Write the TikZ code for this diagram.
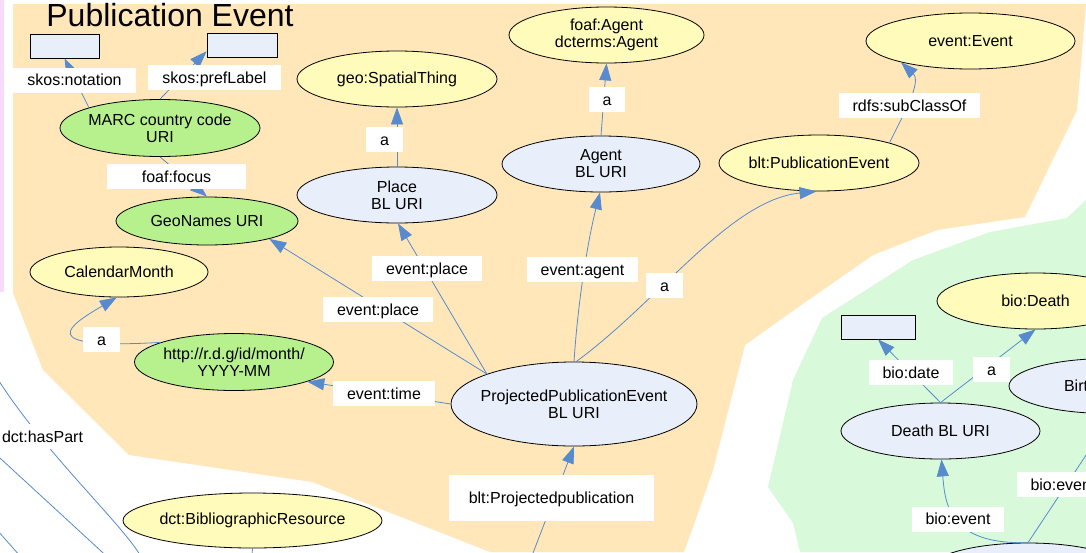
\documentclass[tikz,border=0pt]{standalone}
\usepackage{fontspec}
\setmainfont{Liberation Sans}
\usepackage{tikz}
\usetikzlibrary{positioning,shapes.geometric,arrows.meta}
\definecolor{clorange}{RGB}{255,231,186}
\definecolor{clgreen}{RGB}{216,250,218}
\definecolor{clpink}{RGB}{248,218,250}
\definecolor{ndyellow}{RGB}{255,251,187}
\definecolor{ndblue}{RGB}{233,239,250}
\definecolor{ndgreen}{RGB}{183,241,142}
\definecolor{edgeblue}{RGB}{87,139,206}
\tikzstyle{ent} = [ellipse, draw, line width=0.8pt, inner xsep=-40pt, inner ysep=-12pt, minimum width=200pt, minimum height=56pt, align=center]
\tikzstyle{uri} = [ent, fill=ndblue]
\tikzstyle{cls} = [ent, fill=ndyellow]
\tikzstyle{ext} = [ent, fill=ndgreen]
\tikzstyle{lit} = [draw, line width=0.8pt, fill=ndblue, minimum width=70pt, minimum height=24pt]
\tikzstyle{prop} = [fill=white, inner xsep=14pt, inner ysep=0pt, minimum height=25pt, text height=12pt, text depth=1pt]
\tikzstyle{rel} = [draw=edgeblue, line width=0.8pt, -{Triangle[length=17pt,width=12pt]}]

\begin{document}
\begin{tikzpicture}[x=1pt, y=-1pt, every node/.style={font=\fontsize{16}{17}\selectfont}]
				\useasboundingbox (0,0) rectangle (1086,552);
				\clip (0,0) rectangle (1086,552);
				\fill[white] (0,0) rectangle (1086,552);
				\fill[clpink] (0,0) rectangle (4,292);
				\fill[clorange] (13,4) -- (1086,4) -- (1077,110) -- (1025,217) -- (937,230) -- (873,255) -- (797,308) -- (745,345) -- (713,470) -- (692,530) -- (684,552) -- (490,552) -- (312,482) -- (129,455) -- (43,370) -- (13,293) -- cycle;
				\fill[clgreen] (1086,200) -- (1067,218) -- (990,232) -- (913,260) -- (822,318) -- (793,380) -- (768,487) -- (793,523) -- (800,552) -- (1086,552) -- cycle;
				\node[font=\fontsize{32}{36}\selectfont, anchor=base] (title) at (170,26) {Publication Event};
				\node[lit, minimum width=69pt] (nota) at (64.5,46) {};
				\node[lit] (pref) at (242,45) {};
				\node[ext, minimum height=57pt] (marc) at (160,128) {MARC country code\\URI};
				\node[ext, minimum width=182pt, minimum height=48pt] (geon) at (207,221) {GeoNames URI};
				\node[cls, minimum width=178pt, minimum height=50pt] (calm) at (119,272) {CalendarMonth};
				\node[ext, minimum width=199pt, minimum height=57pt] (month) at (234,362) {http://r.d.g/id/month/\\YYYY-MM};
				\node[uri, minimum width=246pt, minimum height=84pt] (ppe) at (574,404) {ProjectedPublicationEvent\\BL URI};
				\node[uri] (place) at (397,195) {Place\\BL URI};
				\node[cls] (spat) at (397,79) {geo:SpatialThing};
				\node[cls, minimum width=195pt] (fagent) at (606.5,35) {foaf:Agent\\dcterms:Agent};
				\node[uri, minimum width=198pt] (agent) at (601,164) {Agent\\BL URI};
				\node[cls] (pubev) at (819,163) {blt:PublicationEvent};
				\node[cls, minimum width=209pt] (event) at (970.5,41) {event:Event};
				\node[cls, minimum width=259pt, minimum height=55pt] (bib) at (252.5,520.5) {dct:BibliographicResource};
				\node[cls, minimum width=197pt] (bdeath) at (1035.5,301) {bio:Death};
				\node[lit, minimum width=74pt] (dbox) at (878,327) {};
				\node[uri, minimum width=199pt] (death) at (940.5,431) {Death BL URI};
				\node[uri, minimum width=199pt, minimum height=55pt] (birth) at (1108.5,386) {Birth BL URI};
				\node[uri] (pers) at (1028,571) {};
				\coordinate (projin) at (528,566);
				\coordinate (bibout) at (250,580);
				\coordinate (hpa1) at (-16,356);
				\coordinate (hpa2) at (150,572);
				\coordinate (hpb1) at (-12,447);
				\coordinate (hpb2) at (126,574);
				\coordinate (hpc1) at (-10,522);
				\coordinate (hpc2) at (36,574);
				\draw[rel] (marc.164) -- (nota.south);
				\draw[rel] (marc.north) -- (pref.190);
				\draw[rel] (marc.south) -- (geon.north);
				\draw[rel] (month.165) .. controls (30,350) and (70,325) .. (calm.265);
				\draw[rel] (ppe.180) -- (month.-15);
				\draw[rel] (ppe.161) -- (geon.-16);
				\draw[rel] (ppe.161) -- (place.-88);
				\draw[rel] (ppe.north) .. controls (578,300) and (588,240) .. (agent.-92);
				\draw[rel] (ppe.87) .. controls (660,300) and (730,200) .. (pubev.-95);
				\draw[rel] (pubev.16) .. controls (903,115) and (922,82) .. (event.197);
				\draw[rel] (place.north) -- (spat.south);
				\draw[rel] (agent.north) -- (fagent.south);
				\draw[rel] (projin) -- (ppe.south);
				\draw[rel] (bib.south) -- (bibout);
				\draw[rel] (hpa1) .. controls (30,440) and (120,520) .. (hpa2);
				\draw[rel] (hpb1) -- (hpb2);
				\draw[rel] (hpc1) -- (hpc2);
				\draw[rel] (death.north) -- (dbox.south);
				\draw[rel] (death.north) -- (bdeath.south);
				\draw[rel] (pers.north) .. controls (950,545) and (945,505) .. (death.-88);
				\draw[rel] (pers.north) -- (birth.-80);
				\node[prop] (lnota) at (74.5,80) {skos:notation};
				\node[prop] (lpref) at (214.5,77.5) {skos:prefLabel};
				\node[prop, minimum width=139pt] (lfocus) at (176.5,176.5) {foaf:focus};
				\node[prop] (lspat) at (384.5,139.5) {a};
				\node[prop] (lfag) at (607,99.5) {a};
				\node[prop] (lsub) at (909.5,105.5) {rdfs:subClassOf};
				\node[prop] (lcal) at (101.5,339.5) {a};
				\node[prop] (lgeo) at (378,309.5) {event:place};
				\node[prop] (lplace) at (427,268.5) {event:place};
				\node[prop] (lagent) at (582.5,269.5) {event:agent};
				\node[prop] (lpub) at (664.5,285.5) {a};
				\node[prop] (ltime) at (384,393.5) {event:time};
				\node[prop, minimum width=205pt, minimum height=46pt] (lproj) at (551.5,498) {blt:Projectedpublication};
				\node[prop] (lpart) at (42.5,436.5) {dct:hasPart};
				\node[prop] (ldate) at (911,372.5) {bio:date};
				\node[prop] (ldeath) at (991.5,369.5) {a};
				\node[prop] (levd) at (958,519) {bio:event};
				\node[prop] (levb) at (1063,484.5) {bio:event};
\end{tikzpicture}
\end{document}
